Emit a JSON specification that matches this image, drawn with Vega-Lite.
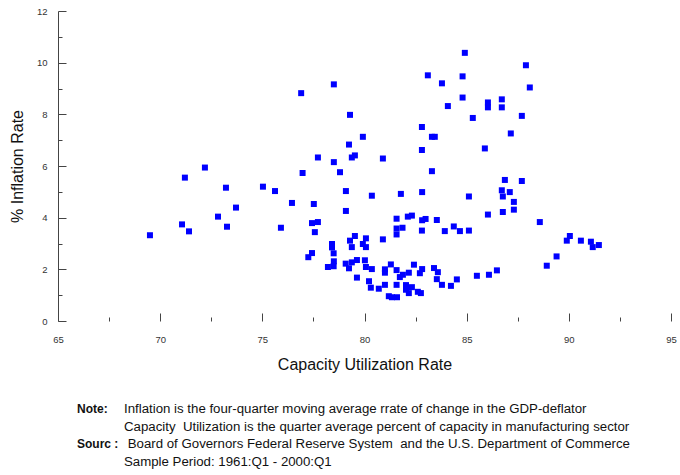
{
  "$schema": "https://vega.github.io/schema/vega-lite/v6.json",
  "width": 613,
  "height": 310,
  "autosize": {"type": "none"},
  "padding": {"left": 58, "top": 11, "right": 9, "bottom": 154},
  "background": "white",
  "config": {"view": {"stroke": null}, "font": "Liberation Sans"},
  "datasets": {
    "points": [
      {"cu":69.50,"inf":3.32},{"cu":71.07,"inf":3.74},{"cu":71.41,"inf":3.47},{"cu":71.21,"inf":5.55},{"cu":72.19,"inf":5.94},
      {"cu":73.22,"inf":5.16},{"cu":72.83,"inf":4.04},{"cu":73.27,"inf":3.65},{"cu":73.71,"inf":4.39},{"cu":75.03,"inf":5.20},
      {"cu":75.62,"inf":5.03},{"cu":76.45,"inf":4.57},{"cu":76.97,"inf":5.73},{"cu":75.91,"inf":3.61},{"cu":77.43,"inf":3.79},
      {"cu":77.72,"inf":3.83},{"cu":77.25,"inf":2.47},{"cu":77.43,"inf":2.63},{"cu":77.57,"inf":3.44},{"cu":77.52,"inf":4.53},
      {"cu":84.91,"inf":10.38},{"cu":83.10,"inf":9.51},{"cu":84.80,"inf":9.47},{"cu":83.79,"inf":9.20},{"cu":78.50,"inf":9.16},
      {"cu":76.90,"inf":8.82},{"cu":84.80,"inf":8.65},{"cu":84.08,"inf":8.32},{"cu":79.29,"inf":7.98},{"cu":82.81,"inf":7.51},
      {"cu":83.30,"inf":7.13},{"cu":83.44,"inf":7.13},{"cu":79.92,"inf":7.13},{"cu":79.24,"inf":6.83},{"cu":82.81,"inf":6.62},
      {"cu":77.72,"inf":6.33},{"cu":78.50,"inf":6.15},{"cu":79.38,"inf":6.33},{"cu":79.53,"inf":6.41},{"cu":80.90,"inf":6.29},
      {"cu":78.80,"inf":5.76},{"cu":83.30,"inf":5.80},{"cu":87.90,"inf":9.90},{"cu":88.09,"inf":9.04},{"cu":86.04,"inf":8.46},
      {"cu":86.04,"inf":8.27},{"cu":86.72,"inf":8.58},{"cu":86.72,"inf":8.27},{"cu":85.30,"inf":7.86},{"cu":87.70,"inf":7.94},
      {"cu":87.16,"inf":7.26},{"cu":85.89,"inf":6.68},{"cu":86.87,"inf":5.46},{"cu":87.70,"inf":5.42},{"cu":85.11,"inf":4.82},
      {"cu":86.72,"inf":5.06},{"cu":86.77,"inf":4.82},{"cu":87.11,"inf":4.99},{"cu":87.31,"inf":4.61},{"cu":87.31,"inf":4.31},
      {"cu":86.04,"inf":4.12},{"cu":86.77,"inf":4.22},{"cu":88.58,"inf":3.83},{"cu":83.93,"inf":3.48},{"cu":84.37,"inf":3.66},
      {"cu":84.67,"inf":3.48},{"cu":85.11,"inf":3.50},{"cu":90.05,"inf":3.29},{"cu":89.90,"inf":3.11},{"cu":90.59,"inf":3.11},
      {"cu":91.08,"inf":3.07},{"cu":91.17,"inf":2.86},{"cu":91.47,"inf":2.94},{"cu":89.40,"inf":2.50},{"cu":88.92,"inf":2.14},
      {"cu":86.48,"inf":1.96},{"cu":86.09,"inf":1.79},{"cu":85.50,"inf":1.75},{"cu":84.52,"inf":1.61},{"cu":84.23,"inf":1.36},
      {"cu":83.79,"inf":1.40},{"cu":82.82,"inf":4.99},{"cu":82.99,"inf":3.95},{"cu":82.82,"inf":3.90},{"cu":83.54,"inf":3.91},
      {"cu":82.81,"inf":3.50},{"cu":82.82,"inf":2.01},{"cu":82.71,"inf":1.85},{"cu":83.40,"inf":2.05},{"cu":83.59,"inf":1.89},
      {"cu":83.54,"inf":1.62},{"cu":82.76,"inf":1.08},{"cu":79.09,"inf":5.03},{"cu":80.36,"inf":4.85},{"cu":81.78,"inf":4.92},
      {"cu":79.09,"inf":4.26},{"cu":81.57,"inf":3.96},{"cu":82.12,"inf":4.04},{"cu":82.32,"inf":4.08},{"cu":81.57,"inf":3.58},
      {"cu":81.86,"inf":3.61},{"cu":81.57,"inf":3.35},{"cu":79.53,"inf":3.29},{"cu":79.29,"inf":3.11},{"cu":79.38,"inf":2.86},
      {"cu":80.07,"inf":3.20},{"cu":79.92,"inf":2.98},{"cu":80.07,"inf":2.86},{"cu":80.90,"inf":3.16},{"cu":78.41,"inf":2.98},
      {"cu":78.41,"inf":2.85},{"cu":78.49,"inf":2.62},{"cu":78.21,"inf":2.09},{"cu":78.50,"inf":2.31},{"cu":78.49,"inf":2.12},
      {"cu":79.08,"inf":2.22},{"cu":79.24,"inf":2.04},{"cu":79.38,"inf":2.27},{"cu":79.63,"inf":2.36},{"cu":80.02,"inf":2.35},
      {"cu":80.07,"inf":2.09},{"cu":80.36,"inf":2.01},{"cu":79.63,"inf":1.68},{"cu":80.22,"inf":1.54},{"cu":80.31,"inf":1.29},
      {"cu":80.70,"inf":1.25},{"cu":81.00,"inf":2.00},{"cu":81.00,"inf":1.87},{"cu":81.29,"inf":2.19},{"cu":81.00,"inf":1.40},
      {"cu":81.57,"inf":1.97},{"cu":81.57,"inf":1.40},{"cu":81.73,"inf":1.70},{"cu":81.88,"inf":1.79},{"cu":82.17,"inf":1.87},
      {"cu":82.42,"inf":2.18},{"cu":82.03,"inf":1.39},{"cu":82.03,"inf":1.21},{"cu":82.32,"inf":1.31},{"cu":82.61,"inf":1.13},
      {"cu":82.17,"inf":1.08},{"cu":81.19,"inf":0.96},{"cu":81.34,"inf":0.92},{"cu":81.59,"inf":0.92}
    ],
    "notes": [
      {"line": 1, "label": "Note:", "text": "Inflation is the four-quarter moving average rrate of change in the GDP-deflator"},
      {"line": 2, "label": "", "text": "Capacity\u00a0 Utilization is the quarter average percent of capacity in manufacturing sector"},
      {"line": 3, "label": "Sourc\u00a0:", "text": "\u200b\u00a0Board of Governors Federal Reserve System\u00a0 and the U.S. Department of Commerce"},
      {"line": 4, "label": "", "text": "Sample Period: 1961:Q1 - 2000:Q1"}
    ]
  },
  "layer": [
    {
      "data": {"name": "points"},
      "mark": {"type": "square", "size": 36, "color": "#0000ff", "opacity": 1, "filled": true},
      "encoding": {
        "x": {
          "field": "cu", "type": "quantitative",
          "scale": {"domain": [65, 95], "nice": false, "zero": false},
          "axis": {
            "values": [65, 67.5, 70, 72.5, 75, 77.5, 80, 82.5, 85, 87.5, 90, 92.5, 95],
            "domain": false, "grid": false,
            "tickSize": {"condition": {"test": "datum.value % 5 == 0", "value": -8}, "value": -4},
            "tickColor": "#444", "tickWidth": 1,
            "labelExpr": "datum.value % 5 == 0 ? datum.label : ''",
            "labelPadding": 21.5, "labelFontSize": 9.5, "labelColor": "#333",
            "labelFlush": false, "labelOverlap": false,
            "title": "Capacity Utilization Rate", "titleFontSize": 16, "titleFontWeight": "normal",
            "titleColor": "#111", "titlePadding": 8
          }
        },
        "y": {
          "field": "inf", "type": "quantitative",
          "scale": {"domain": [0, 12], "nice": false, "zero": true},
          "axis": {
            "values": [0, 1, 2, 3, 4, 5, 6, 7, 8, 9, 10, 11, 12],
            "domain": true, "domainColor": "#444", "grid": false,
            "tickSize": {"condition": {"test": "datum.value % 2 == 0", "value": -8}, "value": -4},
            "tickColor": "#444", "tickWidth": 1,
            "labelExpr": "datum.value % 2 == 0 ? datum.label : ''",
            "labelPadding": 19, "labelFontSize": 9.5, "labelColor": "#333",
            "labelFlush": false, "labelOverlap": false,
            "title": "% Inflation Rate", "titleFontSize": 16, "titleFontWeight": "normal",
            "titleColor": "#111", "titlePadding": 11
          }
        }
      }
    },
    {
      "data": {"name": "notes"},
      "mark": {"type": "text", "align": "left", "baseline": "middle", "fontSize": 12, "fontWeight": "bold", "color": "#111"},
      "encoding": {
        "x": {"datum": 65.93, "type": "quantitative"},
        "y": {"field": "line", "type": "quantitative", "scale": {"domain": [1, 4], "range": [398, 451], "zero": false, "nice": false}, "axis": null},
        "text": {"field": "label"}
      }
    },
    {
      "data": {"name": "notes"},
      "mark": {"type": "text", "align": "left", "baseline": "middle", "fontSize": 13.25, "color": "#111"},
      "encoding": {
        "x": {"datum": 68.23, "type": "quantitative"},
        "y": {"field": "line", "type": "quantitative", "scale": {"domain": [1, 4], "range": [398, 451], "zero": false, "nice": false}, "axis": null},
        "text": {"field": "text"}
      }
    }
  ],
  "resolve": {"scale": {"y": "independent"}}
}
